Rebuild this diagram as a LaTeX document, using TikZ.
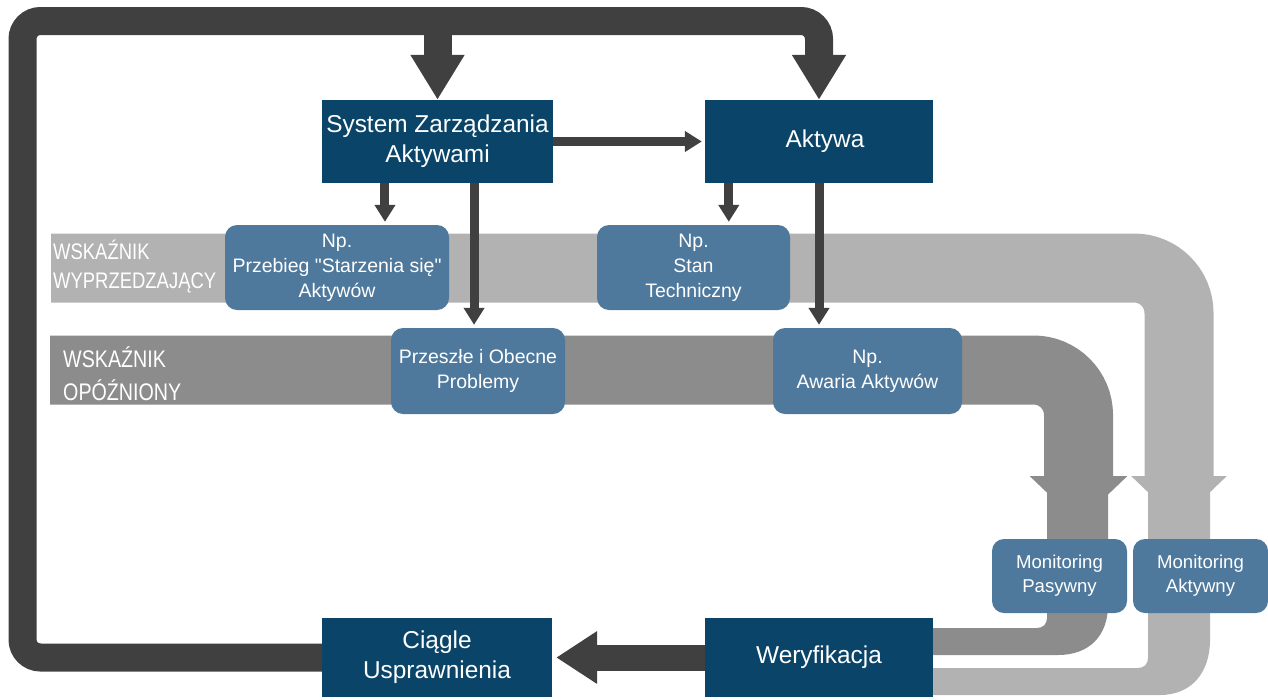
\documentclass[tikz,border=0pt]{standalone}
\usepackage{fontspec}
\setmainfont{Liberation Sans}[Ligatures=TeXOff]
\newfontfamily\condensed[FakeStretch=0.82]{Liberation Sans}
\usetikzlibrary{arrows.meta,calc}
\definecolor{navy}{HTML}{0A4468}
\definecolor{steel}{HTML}{4E799C}
\definecolor{ink}{HTML}{404040}
\definecolor{paleband}{HTML}{B2B2B2}
\definecolor{greyband}{HTML}{8C8C8C}

\begin{document}
\begin{tikzpicture}[x=1pt,y=-1pt,
  darkbox/.style={fill=navy,text=white,inner sep=0pt,align=center,
    font=\fontsize{24.4}{30}\selectfont},
  notebox/.style={fill=steel,text=white,rounded corners=12pt,inner sep=0pt,
    align=center,font=\fontsize{19.5}{25}\selectfont},
  bandlabel/.style={anchor=west,inner sep=0pt,align=left,text=white},
  bigflow/.style={ink,line width=28pt,rounded corners=18pt,
    -{Triangle[width=51pt,length=45pt]}},
  thinflow/.style={ink,line width=9pt,-{Triangle[width=20pt,length=17pt]},
    shorten >=3pt},
  band/.style={line width=69pt,rounded corners=45pt}]

\useasboundingbox (0,0) rectangle (1268,699);

% indicator bands (drawn first, behind everything)
\draw[band,paleband,-{Triangle[width=93pt,length=46pt]}] (51,268) -| (1179,522);
\draw[band,greyband,-{Triangle[width=95pt,length=47pt]}] (50,370) -| (1078.5,523);
% lower parts of the bands, running into the verification box
\fill[greyband] (920,628) -- (1037,628) .. controls (1043,628) and (1047,624) .. (1047,618)
  -- (1047,490) -- (1108,490) -- (1108,605)
  .. controls (1108,635) and (1090,655) .. (1058,655) -- (920,655) -- cycle;
\fill[paleband] (920,668) -- (1138,668) .. controls (1144,668) and (1148,664) .. (1148,658)
  -- (1148,490) -- (1210,490) -- (1210,640)
  .. controls (1210,672) and (1192,695) .. (1160,695) -- (920,695) -- cycle;

\node[bandlabel,font=\condensed\fontsize{22.5}{29}\selectfont] (leadlbl) at (53,267)
  {WSKAŹNIK\\WYPRZEDZAJĄCY};
\node[bandlabel,font=\condensed\fontsize{24}{33}\selectfont] (laglbl) at (63,374)
  {WSKAŹNIK\\OPÓŹNIONY};

% main blocks
\node[darkbox,minimum width=231pt,minimum height=83pt] (sys) at (437.5,141.5)
  {System Zarządzania\\Aktywami};
\node[darkbox,minimum width=228pt,minimum height=83pt] (akt) at (819,141.5)
  {\hspace*{12pt}Aktywa};
\node[darkbox,minimum width=230pt,minimum height=79pt] (ciag) at (437,657.5)
  {Ciągle\\Usprawnienia};
\node[darkbox,minimum width=228pt,minimum height=79pt] (wer) at (819,657.5) {Weryfikacja};

% example boxes
\node[notebox,minimum width=224pt,minimum height=85pt] (age) at (337,267.5)
  {Np.\\Przebieg "Starzenia się"\\Aktywów};
\node[notebox,minimum width=193pt,minimum height=85pt] (cond) at (693.5,267.5)
  {Np.\\Stan\\Techniczny};
\node[notebox,minimum width=174pt,minimum height=86pt] (past) at (478,371)
  {Przeszłe i Obecne\\Problemy};
\node[notebox,minimum width=189pt,minimum height=86pt] (fail) at (867.5,371)
  {Np.\\Awaria Aktywów};
\node[notebox,minimum width=135pt,minimum height=74pt,font=\fontsize{18.6}{24}\selectfont]
  (pas) at (1059.5,576) {Monitoring\\Pasywny};
\node[notebox,minimum width=135pt,minimum height=74pt,font=\fontsize{18.6}{24}\selectfont]
  (act) at (1200.5,576) {Monitoring\\Aktywny};

% feedback loop from continuous improvement back to the top
\coordinate (loopcorner) at (22.5,21);
\draw[bigflow] (ciag.west) -| (loopcorner) -| (akt.north);
\draw[bigflow] (sys.north |- loopcorner) -- (sys.north);
\draw[ink,line width=26pt,-{Triangle[width=50pt,length=41pt]},shorten >=4pt]
  (wer.west) -- (ciag.east);

% thin connectors
\draw[thinflow] (sys.east) -- (akt.west);
\draw[thinflow] ($(sys.south west)!0.273!(sys.south east)$) coordinate (s1)
  -- (s1 |- age.north);
\draw[thinflow] ($(sys.south west)!0.658!(sys.south east)$) coordinate (s2)
  -- (s2 |- past.north);
\draw[thinflow] ($(akt.south west)!0.105!(akt.south east)$) coordinate (a1)
  -- (a1 |- cond.north);
\draw[thinflow] (akt.south) -- (akt.south |- fail.north);

\end{tikzpicture}
\end{document}
